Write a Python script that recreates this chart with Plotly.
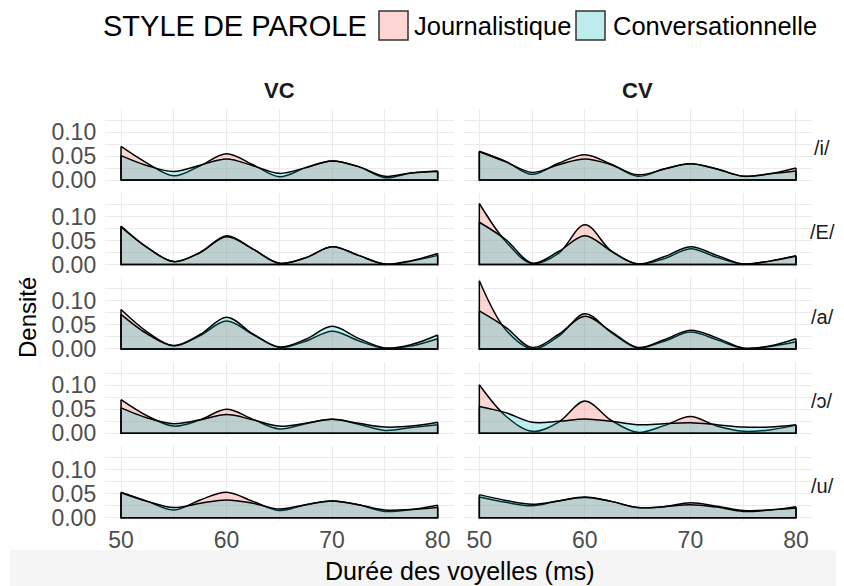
import plotly.graph_objects as go

DUREE = [50, 52.5, 55, 57.5, 60, 62.5, 65, 67.5, 70, 72.5, 75, 77.5, 80]

VOYELLES = ["/i/", "/E/", "/a/", "/ɔ/", "/u/"]
CONTEXTES = ["VC", "CV"]
STYLES = ["Journalistique", "Conversationnelle"]

vc_i_journ = [0.070, 0.035, 0.009, 0.030, 0.055, 0.032, 0.007, 0.026, 0.040, 0.028, 0.005, 0.015, 0.019]
vc_i_conv = [0.051, 0.030, 0.018, 0.031, 0.044, 0.030, 0.014, 0.026, 0.040, 0.028, 0.008, 0.015, 0.018]
vc_e_journ = [0.080, 0.035, 0.006, 0.025, 0.060, 0.032, 0.002, 0.014, 0.037, 0.019, 0.001, 0.007, 0.019]
vc_e_conv = [0.078, 0.035, 0.006, 0.025, 0.058, 0.032, 0.003, 0.014, 0.037, 0.019, 0.001, 0.008, 0.023]
vc_a_journ = [0.082, 0.035, 0.006, 0.028, 0.058, 0.030, 0.003, 0.016, 0.037, 0.017, 0.001, 0.006, 0.021]
vc_a_conv = [0.072, 0.031, 0.007, 0.030, 0.066, 0.031, 0.004, 0.020, 0.047, 0.022, 0.002, 0.009, 0.029]
vc_o_journ = [0.070, 0.036, 0.015, 0.028, 0.050, 0.029, 0.009, 0.020, 0.029, 0.019, 0.006, 0.012, 0.018]
vc_o_conv = [0.053, 0.032, 0.020, 0.028, 0.039, 0.028, 0.015, 0.021, 0.029, 0.021, 0.013, 0.015, 0.023]
vc_u_journ = [0.053, 0.034, 0.016, 0.037, 0.053, 0.034, 0.015, 0.027, 0.035, 0.027, 0.013, 0.017, 0.026]
vc_u_conv = [0.052, 0.034, 0.021, 0.030, 0.037, 0.030, 0.018, 0.027, 0.035, 0.027, 0.016, 0.017, 0.021]

cv_i_journ = [0.060, 0.039, 0.012, 0.035, 0.053, 0.033, 0.008, 0.023, 0.034, 0.023, 0.008, 0.013, 0.025]
cv_i_conv = [0.059, 0.038, 0.016, 0.032, 0.044, 0.032, 0.011, 0.023, 0.034, 0.023, 0.008, 0.013, 0.019]
cv_e_journ = [0.127, 0.048, 0.002, 0.023, 0.083, 0.028, 0.001, 0.012, 0.033, 0.015, 0.001, 0.007, 0.018]
cv_e_conv = [0.088, 0.052, 0.003, 0.027, 0.060, 0.028, 0.001, 0.016, 0.037, 0.019, 0.001, 0.007, 0.017]
cv_a_journ = [0.142, 0.040, 0.000, 0.026, 0.073, 0.034, 0.002, 0.016, 0.035, 0.019, 0.001, 0.005, 0.015]
cv_a_conv = [0.079, 0.045, 0.003, 0.030, 0.068, 0.036, 0.003, 0.019, 0.039, 0.023, 0.002, 0.006, 0.021]
cv_o_journ = [0.101, 0.036, 0.004, 0.023, 0.067, 0.027, 0.002, 0.016, 0.035, 0.015, 0.004, 0.007, 0.017]
cv_o_conv = [0.056, 0.043, 0.023, 0.025, 0.030, 0.025, 0.018, 0.020, 0.022, 0.018, 0.013, 0.013, 0.018]
cv_u_journ = [0.043, 0.032, 0.025, 0.035, 0.042, 0.034, 0.021, 0.023, 0.031, 0.024, 0.015, 0.016, 0.023]
cv_u_conv = [0.048, 0.036, 0.028, 0.035, 0.043, 0.034, 0.021, 0.023, 0.027, 0.022, 0.013, 0.016, 0.020]

PANELS = {
    ("/i/", "VC"): (vc_i_journ, vc_i_conv),
    ("/E/", "VC"): (vc_e_journ, vc_e_conv),
    ("/a/", "VC"): (vc_a_journ, vc_a_conv),
    ("/ɔ/", "VC"): (vc_o_journ, vc_o_conv),
    ("/u/", "VC"): (vc_u_journ, vc_u_conv),
    ("/i/", "CV"): (cv_i_journ, cv_i_conv),
    ("/E/", "CV"): (cv_e_journ, cv_e_conv),
    ("/a/", "CV"): (cv_a_journ, cv_a_conv),
    ("/ɔ/", "CV"): (cv_o_journ, cv_o_conv),
    ("/u/", "CV"): (cv_u_journ, cv_u_conv),
}

# ── Style ────────────────────────────────────────────────────────────────────
# the page body has an 8px margin: the figure is made 8px smaller and every
# pixel position below is given in window coordinates
OFF = 8
W, H = 844 - OFF, 586 - OFF
FONT = "'Liberation Sans', Arial, Helvetica, sans-serif"
FILLS = {
    "Journalistique": "rgba(248,118,109,0.3)",
    "Conversationnelle": "rgba(0,191,196,0.25)",
}
BOX_FILLS = {"Journalistique": "#fdd6d3", "Conversationnelle": "#bdeced"}
GRID = "#ebebeb"
TICK_COLOR = "#4d4d4d"

# panel geometry in window pixels
COL_X = [(105.2, 453.5), (463.5, 811.8)]
ROW_TOP0, ROW_STEP, ROW_H = 108.5, 84.4, 75.0
X_RANGE = [48.5, 81.5]
Y_RANGE = [-0.0071, 0.1491]


def px_x(v):
    return (v - OFF) / W


def px_y(v):
    return 1 - (v - OFF) / H


def label(text, x, y, size, **kw):
    return dict(
        text=text, x=px_x(x), y=px_y(y), xref="paper", yref="paper",
        xanchor=kw.pop("xanchor", "center"), yanchor="middle", showarrow=False,
        font=dict(size=size, color=kw.pop("color", "black"), family=FONT), **kw,
    )


fig = go.Figure()
layout = {}

for r, voy in enumerate(VOYELLES):
    top = ROW_TOP0 + r * ROW_STEP
    for c, ctx in enumerate(CONTEXTES):
        idx = r * 2 + c + 1
        sfx = "" if idx == 1 else str(idx)
        xref, yref = "x" + sfx, "y" + sfx

        for style, ys in zip(STYLES, PANELS[(voy, ctx)]):
            fig.add_trace(go.Scatter(
                x=DUREE, y=ys, mode="lines",
                line=dict(color="black", width=1.5, shape="spline"),
                fill="tozeroy", fillcolor=FILLS[style],
                xaxis=xref, yaxis=yref, showlegend=False,
                hovertemplate=f"{style}<br>%{{x}} ms: %{{y:.3f}}<extra></extra>",
            ))
            # closing edges of the density polygon (ends + baseline)
            fig.add_trace(go.Scatter(
                x=[DUREE[0], DUREE[0], DUREE[-1], DUREE[-1]],
                y=[ys[0], 0, 0, ys[-1]], mode="lines",
                line=dict(color="black", width=1.5),
                xaxis=xref, yaxis=yref, showlegend=False, hoverinfo="skip",
            ))

        x0, x1 = COL_X[c]
        layout["xaxis" + sfx] = dict(
            domain=[px_x(x0), px_x(x1)], anchor=yref, range=X_RANGE,
            tick0=50, dtick=10, showgrid=True, gridcolor=GRID, gridwidth=1.3,
            minor=dict(tick0=50, dtick=5, showgrid=True, gridcolor=GRID, gridwidth=0.7),
            zeroline=False, showline=False, ticks="",
            showticklabels=(r == len(VOYELLES) - 1),
            tickfont=dict(size=23, color=TICK_COLOR, family=FONT),
            ticklabelstandoff=3, automargin=False,
        )
        layout["yaxis" + sfx] = dict(
            domain=[px_y(top + ROW_H), px_y(top)], anchor=xref, range=Y_RANGE,
            tick0=0, dtick=0.05, tickformat=".2f",
            showgrid=True, gridcolor=GRID, gridwidth=1.3,
            minor=dict(tick0=0, dtick=0.025, showgrid=True, gridcolor=GRID, gridwidth=0.7),
            zeroline=False, showline=False, ticks="",
            showticklabels=(c == 0),
            tickfont=dict(size=23, color=TICK_COLOR, family=FONT),
            ticklabelstandoff=8, automargin=False,
        )

annotations = []
shapes = []

# facet strips
for c, ctx in enumerate(CONTEXTES):
    x0, x1 = COL_X[c]
    annotations.append(label(f"<b>{ctx}</b>", (x0 + x1) / 2, 91, 22, color="#1a1a1a"))
for r, voy in enumerate(VOYELLES):
    annotations.append(label(voy, 822, ROW_TOP0 + r * ROW_STEP + ROW_H / 2 + 2, 20,
                             color="#1a1a1a"))

# axis titles
annotations.append(label("Densité", 27, 318, 24, textangle=-90))
annotations.append(label("Durée des voyelles (ms)", 460, 571, 25))

# legend, drawn by hand
annotations.append(label("STYLE DE PAROLE", 101, 26, 29, xanchor="left"))
legend_items = [("Journalistique", 379, 412), ("Conversationnelle", 576, 611)]
for style, bx, tx in legend_items:
    shapes.append(dict(
        type="rect", xref="paper", yref="paper",
        x0=px_x(bx), x1=px_x(bx + 29), y0=px_y(40), y1=px_y(11),
        fillcolor=BOX_FILLS[style], line=dict(color="#333333", width=1.5),
    ))
    annotations.append(label(style, tx, 26, 25.5, xanchor="left"))

# light band behind the x title
shapes.append(dict(
    type="rect", xref="paper", yref="paper", layer="below",
    x0=px_x(10), x1=1, y0=0, y1=px_y(550),
    fillcolor="#f5f5f5", line=dict(width=0),
))

fig.update_layout(
    **layout,
    annotations=annotations,
    shapes=shapes,
    width=W, height=H,
    margin=dict(l=0, r=0, t=0, b=0),
    paper_bgcolor="white", plot_bgcolor="white",
    showlegend=False,
    font=dict(family=FONT),
)

fig.write_html("out.html")
